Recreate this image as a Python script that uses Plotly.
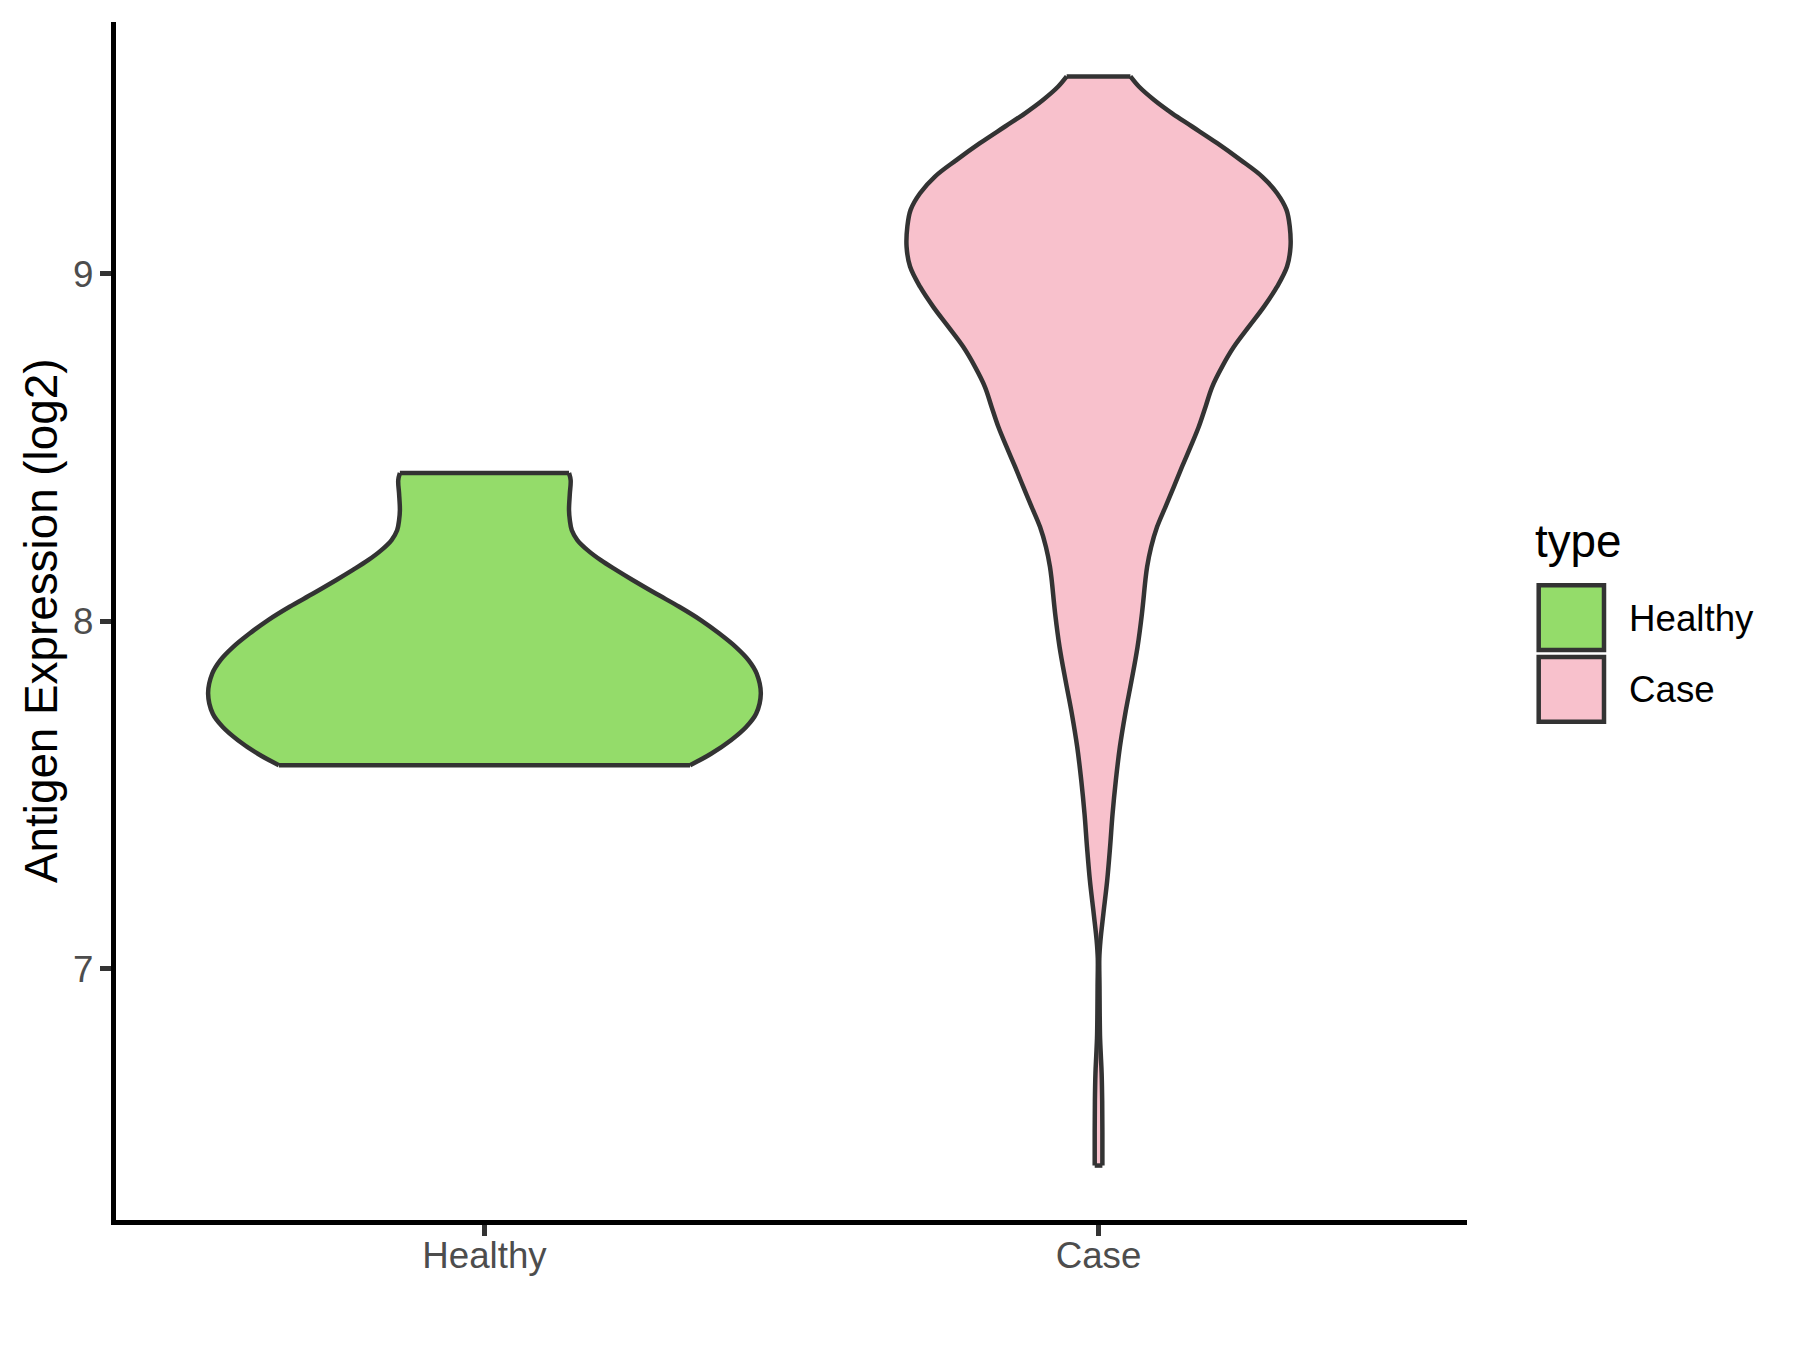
import plotly.graph_objects as go

# ---------------- data ----------------
categories = ["Healthy", "Case"]
positions = [1, 2]
fill_colors = ["#94DC6A", "#F8C1CC"]
outline_color = "#333333"

# Violin outlines: expression level (log2) and half-width as a fraction of the
# violin's own maximum half-width.
healthy_y = [8.427, 8.406, 8.368, 8.320, 8.291, 8.262, 8.234, 8.205, 8.176,
             8.148, 8.119, 8.080, 8.042, 8.003, 7.965, 7.926, 7.888, 7.850,
             7.792, 7.734, 7.696, 7.658, 7.619, 7.586]
healthy_w = [0.306, 0.312, 0.309, 0.306, 0.309, 0.316, 0.336, 0.373, 0.421,
             0.476, 0.536, 0.620, 0.705, 0.784, 0.850, 0.910, 0.956, 0.985,
             1.000, 0.983, 0.947, 0.892, 0.820, 0.744]

case_y = [9.568, 9.539, 9.501, 9.462, 9.424, 9.376, 9.328, 9.280, 9.232,
          9.184, 9.136, 9.078, 9.021, 8.963, 8.905, 8.848, 8.790, 8.733,
          8.675, 8.617, 8.560, 8.502, 8.445, 8.387, 8.329, 8.272, 8.214,
          8.157, 8.118, 8.022, 7.926, 7.830, 7.734, 7.638, 7.542, 7.446,
          7.350, 7.254, 7.158, 7.082, 7.030, 6.950, 6.870, 6.800, 6.750,
          6.700, 6.620, 6.530, 6.434]
case_w = [0.166, 0.210, 0.288, 0.383, 0.487, 0.618, 0.739, 0.852, 0.930,
          0.979, 0.996, 1.000, 0.982, 0.930, 0.861, 0.783, 0.705, 0.644,
          0.592, 0.557, 0.522, 0.479, 0.435, 0.392, 0.348, 0.305, 0.274,
          0.253, 0.244, 0.226, 0.203, 0.172, 0.139, 0.111, 0.090, 0.073,
          0.060, 0.045, 0.025, 0.010, 0.004, 0.005, 0.006, 0.008, 0.012,
          0.016, 0.019, 0.020, 0.020]

# maximum half-width of each violin in x-axis (category) units
max_half_width = [0.45, 0.3126]

y_ticks = [7, 8, 9]
y_title = "Antigen Expression (log2)"
legend_title = "type"

# ---------------- layout geometry ----------------
W, H = 1800, 1350
PL, PR, PT, PB = 116, 1467, 22, 1220
FONT = "Liberation Sans, Arial, sans-serif"
LINE_W = 4.5


def px_x(px):
    return (px - PL) / (PR - PL)


def px_y(py):
    return (PB - py) / (PB - PT)


fig = go.Figure()

profiles = [(healthy_y, healthy_w), (case_y, case_w)]
for cat, pos, col, mhw, (ys, ws) in zip(categories, positions, fill_colors,
                                        max_half_width, profiles):
    left = [pos - w * mhw for w in ws]
    right = [pos + w * mhw for w in ws]
    # filled body
    fig.add_trace(go.Scatter(
        x=left + right[::-1], y=ys + ys[::-1], mode="lines",
        fill="toself", fillcolor=col, line=dict(width=0, color=col),
        hoverinfo="skip", showlegend=False, name=cat))
    # smooth sides
    for side in (left, right):
        fig.add_trace(go.Scatter(
            x=side, y=ys, mode="lines",
            line=dict(color=outline_color, width=LINE_W, shape="spline",
                      smoothing=1.0),
            hoverinfo="skip", showlegend=False))
    # flat top and bottom
    for i in (0, -1):
        fig.add_trace(go.Scatter(
            x=[left[i], right[i]], y=[ys[i], ys[i]], mode="lines",
            line=dict(color=outline_color, width=LINE_W),
            hoverinfo="skip", showlegend=False))

all_y = healthy_y + case_y
ymin, ymax = min(all_y), max(all_y)
rng = ymax - ymin

fig.update_layout(
    width=W, height=H, autosize=False,
    margin=dict(l=PL, r=W - PR, t=PT, b=H - PB, pad=0),
    paper_bgcolor="white", plot_bgcolor="white",
    font=dict(family=FONT, color="black"),
    showlegend=False,
    xaxis=dict(
        range=[0.4, 2.6], tickmode="array", tickvals=positions,
        ticktext=categories, showgrid=False, zeroline=False,
        showline=True, linecolor="black", linewidth=LINE_W,
        ticks="outside", ticklen=11.5, tickwidth=LINE_W,
        tickcolor=outline_color, ticklabelstandoff=-12,
        tickfont=dict(family=FONT, size=36.7, color="#4D4D4D"),
        automargin=False, fixedrange=True),
    yaxis=dict(
        range=[ymin - 0.05 * rng, ymax + 0.05 * rng], tickmode="array",
        tickvals=y_ticks, ticktext=[str(t) for t in y_ticks],
        showgrid=False, zeroline=False,
        showline=True, linecolor="black", linewidth=LINE_W,
        ticks="outside", ticklen=11.5, tickwidth=LINE_W,
        tickcolor=outline_color, ticklabelstandoff=-1,
        tickfont=dict(family=FONT, size=36.7, color="#4D4D4D"),
        automargin=False, fixedrange=True),
)

annotations = [
    dict(text=y_title, x=px_x(41), y=0.5, xref="paper", yref="paper",
         xanchor="center", yanchor="middle", textangle=-90, showarrow=False,
         font=dict(family=FONT, size=45.8, color="black")),
    dict(text=legend_title, x=px_x(1533), y=px_y(541), xref="paper",
         yref="paper", xanchor="left", yanchor="middle", showarrow=False,
         font=dict(family=FONT, size=45.8, color="black")),
]

shapes = []
key_tops = [585.3, 657.0]
key_h = 64.7
for cat, col, top in zip(categories, fill_colors, key_tops):
    shapes.append(dict(type="rect", xref="paper", yref="paper",
                       x0=px_x(1538.7), x1=px_x(1604.0),
                       y0=px_y(top + key_h), y1=px_y(top),
                       line=dict(color=outline_color, width=LINE_W),
                       fillcolor=col, layer="above"))
    annotations.append(dict(text=cat, x=px_x(1627), y=px_y(top + key_h / 2 + 0.5),
                            xref="paper", yref="paper", xanchor="left",
                            yanchor="middle", showarrow=False,
                            font=dict(family=FONT, size=36.7, color="black")))

fig.update_layout(annotations=annotations, shapes=shapes)

fig.write_html("out.html", config={"displayModeBar": False},
               post_script="document.body.style.margin='0';")
